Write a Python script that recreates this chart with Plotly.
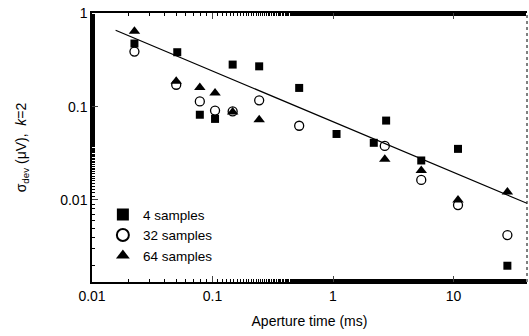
import plotly.graph_objects as go

# Aperture time (ms) and sigma_dev (uV)
sq_x = [0.0225, 0.051, 0.0785, 0.105, 0.147, 0.244, 0.524, 1.07, 2.18, 2.76, 5.4, 10.9, 28]
sq_y = [0.476, 0.384, 0.082, 0.074, 0.283, 0.271, 0.159, 0.051, 0.041, 0.071, 0.0265, 0.0353, 0.00197]

ci_x = [0.0225, 0.05, 0.0785, 0.105, 0.147, 0.244, 0.524, 2.69, 5.4, 10.9, 28]
ci_y = [0.39, 0.172, 0.114, 0.091, 0.089, 0.117, 0.0625, 0.038, 0.0164, 0.0088, 0.0042]

tr_x = [0.0225, 0.05, 0.0785, 0.105, 0.147, 0.244, 2.69, 5.4, 10.9, 28]
tr_y = [0.645, 0.187, 0.161, 0.14, 0.088, 0.0725, 0.0274, 0.0207, 0.01, 0.0122]

fit_x = [0.0157, 40.7]
fit_y = [0.66, 0.0092]

x_ticks = [0.01, 0.1, 1, 10]
x_labels = ["0.01", "0.1", "1", "10"]
y_ticks = [0.01, 0.1, 1]
y_labels = ["0.01", "0.1", "1"]

fig = go.Figure()
fig.add_trace(go.Scatter(x=fit_x, y=fit_y, mode="lines",
                         line=dict(color="black", width=1.2), showlegend=False))
fig.add_trace(go.Scatter(x=sq_x, y=sq_y, mode="markers", name="4 samples",
                         marker=dict(symbol="square", size=8, color="black")))
fig.add_trace(go.Scatter(x=ci_x, y=ci_y, mode="markers", name="32 samples",
                         marker=dict(symbol="circle-open", size=9, color="black",
                                     line=dict(width=1.3, color="black"))))
fig.add_trace(go.Scatter(x=tr_x, y=tr_y, mode="markers", name="64 samples",
                         marker=dict(symbol="triangle-up", size=10, color="black")))

font = "Liberation Sans, Arial, sans-serif"
fig.update_layout(
    width=529, height=336,
    margin=dict(l=92, r=2, t=13, b=54),
    paper_bgcolor="white", plot_bgcolor="white",
    font=dict(family=font, size=14, color="black"),
    legend=dict(x=0.025, y=0.308, xanchor="left", yanchor="top",
                bgcolor="rgba(0,0,0,0)", font=dict(size=13.5),
                itemsizing="constant", tracegroupgap=0),
    xaxis=dict(type="log", range=[-2, 1.61], tickvals=x_ticks, ticktext=x_labels,
               ticks="inside", ticklen=6, tickwidth=1.2, showline=True,
               linecolor="black", linewidth=1.5, mirror="ticks", showgrid=False,
               zeroline=False,
               minor=dict(ticks="inside", ticklen=3, tickcolor="black", showgrid=False),
               title=dict(text="Aperture time (ms)", standoff=14, font=dict(size=14))),
    yaxis=dict(type="log", range=[-2.88, 0.005], tickvals=y_ticks, ticktext=y_labels,
               ticks="inside", ticklen=6, tickwidth=1.2, showline=True,
               linecolor="black", linewidth=1.5, mirror=False, showgrid=False,
               zeroline=False,
               minor=dict(ticks="inside", ticklen=3, tickcolor="black", showgrid=False),
               title=dict(text="σ<sub>dev</sub> (μV),  <i>k</i>=2", standoff=30,
                          font=dict(size=14))),
    shapes=[dict(type="line", xref="paper", yref="paper", x0=1, x1=1, y0=0, y1=1,
                 line=dict(color="black", width=1, dash="dot"))],
)

fig.write_html("out.html")
